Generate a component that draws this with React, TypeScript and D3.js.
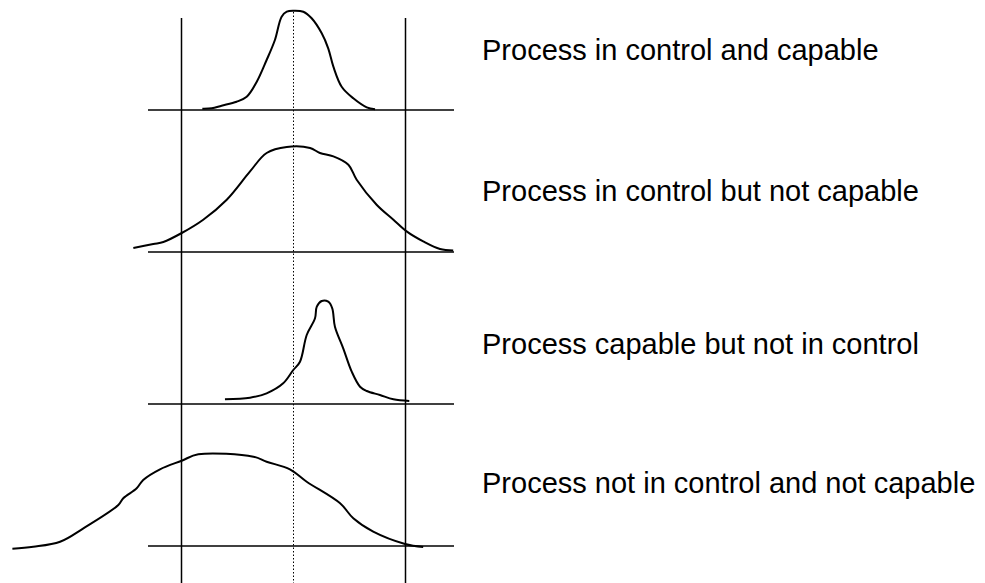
import React from 'react';
import * as d3 from 'd3';

// curve shapes: u = position relative to spec limits (0 = LSL, 1 = USL), h = relative height
const inControlCapable: [number, number][] = [
  [0.093, 0.013], [0.135, 0.017], [0.179, 0.043], [0.246, 0.083], [0.291, 0.133],
  [0.336, 0.283], [0.38, 0.5], [0.417, 0.7], [0.447, 0.933], [0.47, 0.983],
  [0.499, 0.993], [0.544, 0.983], [0.581, 0.917], [0.626, 0.767], [0.655, 0.617],
  [0.678, 0.433], [0.715, 0.233], [0.767, 0.117], [0.827, 0.027], [0.864, 0.007],
];
const inControlNotCapable: [number, number][] = [
  [-0.215, 0.04], [-0.126, 0.08], [-0.081, 0.1], [0.001, 0.19], [0.097, 0.323],
  [0.202, 0.523], [0.306, 0.806], [0.38, 0.99], [0.47, 1.05], [0.574, 1.04],
  [0.618, 0.99], [0.678, 0.956], [0.745, 0.873], [0.782, 0.723], [0.871, 0.473],
  [0.946, 0.323], [1.005, 0.206], [1.079, 0.106], [1.154, 0.03], [1.213, 0.016],
];
const capableNotInControl: [number, number][] = [
  [0.194, 0.047], [0.306, 0.063], [0.38, 0.107], [0.454, 0.207], [0.499, 0.34],
  [0.529, 0.423], [0.559, 0.69], [0.596, 0.857], [0.604, 0.973], [0.626, 1.03],
  [0.655, 1.023], [0.673, 0.957], [0.685, 0.773], [0.722, 0.557], [0.76, 0.323],
  [0.797, 0.173], [0.827, 0.13], [0.886, 0.09], [0.946, 0.047], [1.017, 0.03],
];
const notInControlNotCapable: [number, number][] = [
  [-0.755, -0.027], [-0.662, -0.007], [-0.542, 0.043], [-0.438, 0.177], [-0.282, 0.41],
  [-0.26, 0.477], [-0.2, 0.577], [-0.171, 0.66], [-0.096, 0.767], [0.001, 0.853],
  [0.075, 0.917], [0.321, 0.893], [0.38, 0.843], [0.484, 0.767], [0.559, 0.643],
  [0.708, 0.427], [0.767, 0.277], [0.856, 0.143], [0.998, 0.02], [1.079, -0.01],
];

const labels = [
  'Process in control and capable',
  'Process in control but not capable',
  'Process capable but not in control',
  'Process not in control and not capable',
];
const curves = [inControlCapable, inControlNotCapable, capableNotInControl, notInControlNotCapable];

const W = 985;
const H = 583;
const baselines = [110, 252, 404, 546]; // y of each panel's axis
const labelY = [60, 201, 354, 493];

export default function App() {
  const x = d3.scaleLinear().domain([0, 1]).range([181.5, 405.5]);
  const h = d3.scaleLinear().domain([0, 1]).range([0, 100]);
  const target = x(0.5);

  return (
    <svg width={W} height={H} style={{ position: 'absolute', left: 0, top: 0, background: '#fff' }}>
      {/* spec limits */}
      {[0, 1].map(v => (
        <line key={v} x1={x(v)} x2={x(v)} y1={18} y2={H} stroke="#000" strokeWidth={1.5} />
      ))}
      <line x1={target} x2={target} y1={12} y2={H} stroke="#000" strokeWidth={1} strokeDasharray="1.5,2" />
      {curves.map((pts, i) => {
        const base = baselines[i];
        const line = d3.line<[number, number]>()
          .x(d => x(d[0]))
          .y(d => base - h(d[1]))
          .curve(d3.curveCatmullRom.alpha(0.5));
        return (
          <g key={i}>
            <line x1={148} x2={454} y1={base} y2={base} stroke="#000" strokeWidth={1.5} />
            <path d={line(pts) || ''} fill="none" stroke="#000" strokeWidth={2} />
            <text x={482} y={labelY[i]} fontFamily="Liberation Sans, Arial, sans-serif" fontSize={29} fill="#000">
              {labels[i]}
            </text>
          </g>
        );
      })}
    </svg>
  );
}
